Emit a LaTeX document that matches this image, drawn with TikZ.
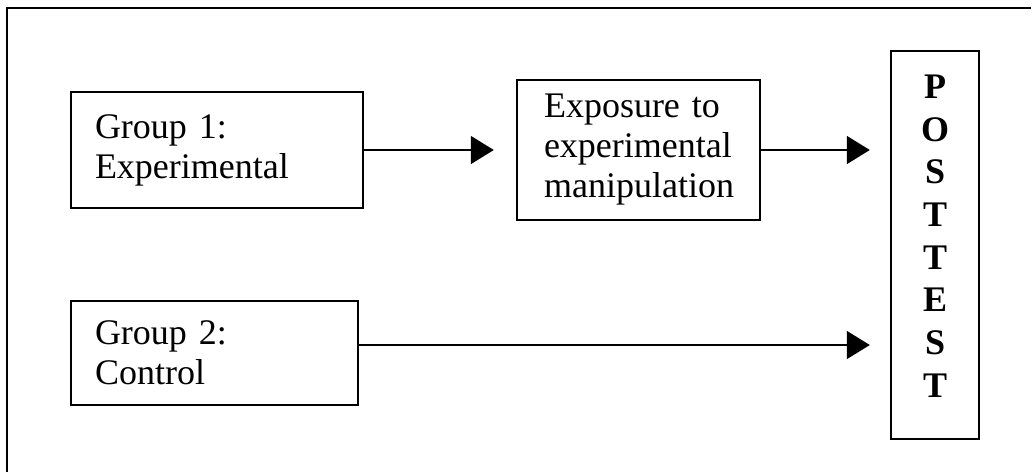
\documentclass[tikz,border=0pt]{standalone}
\usepackage{fontspec}
\setmainfont{Liberation Serif}
\usetikzlibrary{arrows.meta,calc}
\tikzset{
  boxnode/.style={draw, line width=2.4pt, inner sep=0pt, align=left,
    font=\fontsize{36pt}{40pt}\selectfont},
  arr/.style={line width=1.5pt, -{Triangle[length=23pt,width=28pt]}},
  frameline/.style={line width=2.8pt}
}
\begin{document}
\begin{tikzpicture}[x=1pt,y=1pt]
\useasboundingbox (0,0) rectangle (1035,-472);
% outer frame (top and left edges)
\coordinate (ftl) at (7,-8);
\coordinate (ftr) at (1031,-8);
\coordinate (fbl) at (7,-472);
\draw[frameline] (ftr) -- (ftl) -- (fbl);
% boxes
\node[boxnode, minimum width=292pt, minimum height=116pt, text width=244pt] (g1) at (217,-150) {Group 1:\\Experimental};
\node[boxnode, minimum width=243pt, minimum height=140pt, text width=189pt] (ex) at (638.5,-150) {Exposure to\\experimental\\manipulation};
\node[boxnode, minimum width=287pt, minimum height=104pt, text width=239pt] (g2) at (214.5,-353) {Group 2:\\Control};
\node[draw, line width=2.4pt, inner sep=0pt, minimum width=88pt, minimum height=388pt] (pt) at (935,-245) {};
\node[inner sep=0pt, align=center, font=\fontsize{36pt}{42.7pt}\selectfont\bfseries] (ptlabel) at (935,-236) {P\\O\\S\\T\\T\\E\\S\\T};
% arrows
\draw[arr, shorten >=22pt] (g1.east) -- (ex.west);
\draw[arr, shorten >=20pt] (ex.east) -- (ex.east -| pt.west);
\draw[arr, shorten >=20pt] ([yshift=8pt]g2.east) -- ([yshift=8pt]g2.east -| pt.west);
\end{tikzpicture}
\end{document}
